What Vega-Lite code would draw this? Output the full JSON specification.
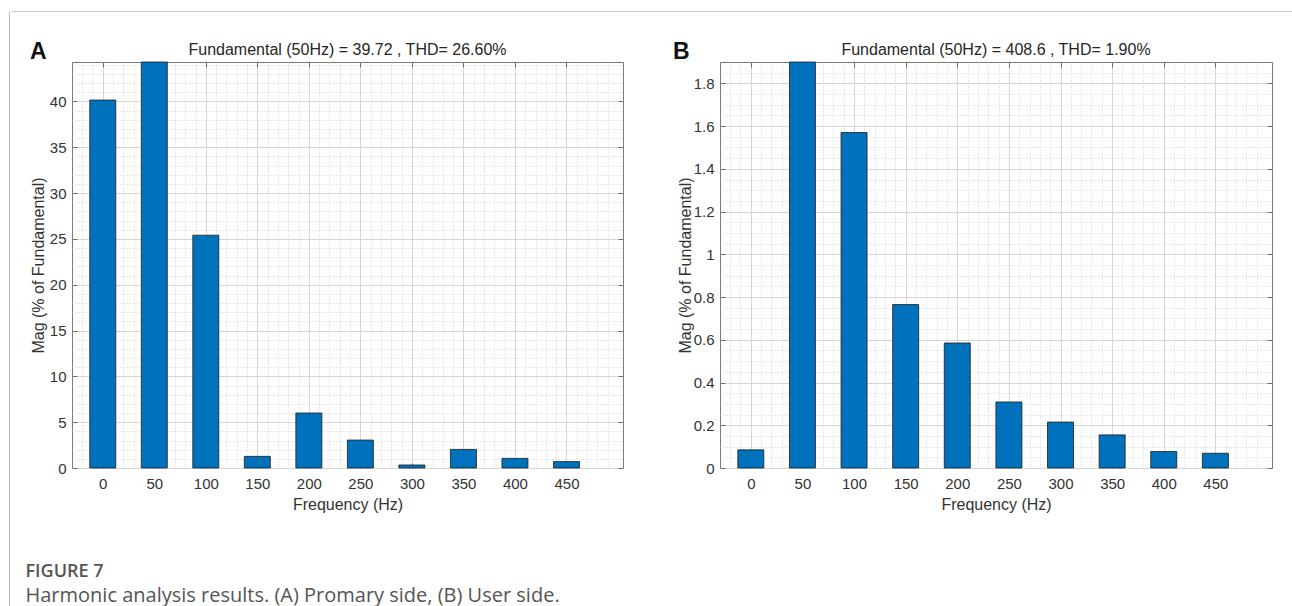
{
  "$schema": "https://vega.github.io/schema/vega-lite/v6.json",
  "background": "white",
  "padding": {"left": 8, "top": 10, "right": 0, "bottom": 0},
  "config": {
    "font": "Liberation Sans",
    "view": {"stroke": "#7a7a7a", "strokeWidth": 1},
    "axis": {
      "domain": false,
      "labelFont": "Liberation Sans",
      "labelFontSize": 15,
      "labelColor": "#333333",
      "titleFont": "Liberation Sans",
      "titleFontSize": 16,
      "titleFontWeight": "normal",
      "titleColor": "#333333",
      "tickColor": "#6e6e6e",
      "tickSize": -5,
      "labelOverlap": false,
      "labelFlush": false
    }
  },
  "datasets": {
    "A": [
      {"f": 0, "mag": 40.15},
      {"f": 50, "mag": 100},
      {"f": 100, "mag": 25.4},
      {"f": 150, "mag": 1.27},
      {"f": 200, "mag": 6.0},
      {"f": 250, "mag": 3.05},
      {"f": 300, "mag": 0.33},
      {"f": 350, "mag": 2.03},
      {"f": 400, "mag": 1.05},
      {"f": 450, "mag": 0.7}
    ],
    "B": [
      {"f": 0, "mag": 0.085},
      {"f": 50, "mag": 100},
      {"f": 100, "mag": 1.57},
      {"f": 150, "mag": 0.765},
      {"f": 200, "mag": 0.585},
      {"f": 250, "mag": 0.309},
      {"f": 300, "mag": 0.215},
      {"f": 350, "mag": 0.155},
      {"f": 400, "mag": 0.077},
      {"f": 450, "mag": 0.069}
    ],
    "empty": []
  },
  "spacing": 0,
  "hconcat": [
    {
      "width": 0.01,
      "height": 596,
      "data": {"name": "empty"},
      "mark": {"type": "rule"},
      "encoding": {},
      "view": {"stroke": "#bdbdbd", "strokeWidth": 1}
    },
    {
      "spacing": 28,
      "vconcat": [
        {
          "width": 1284,
          "height": 0.01,
          "data": {"name": "empty"},
          "mark": {"type": "rule"},
          "encoding": {},
          "view": {"stroke": "#c8c8c8", "strokeWidth": 1}
        },
        {
          "spacing": 0,
          "hconcat": [
            {
              "width": 14,
              "height": 0.01,
              "data": {"name": "empty"},
              "mark": {"type": "rule"},
              "encoding": {},
              "view": {"stroke": null}
            },
            {
              "spacing": 48,
              "title": {
                "text": "FIGURE 7",
                "subtitle": "Harmonic analysis results. (A) Promary side, (B) User side.",
                "orient": "bottom",
                "anchor": "start",
                "frame": "bounds",
                "dx": -4,
                "font": "Open Sans",
                "fontSize": 18,
                "fontWeight": 600,
                "color": "#555555",
                "subtitleFont": "Open Sans",
                "subtitleFontSize": 20,
                "subtitleFontWeight": 400,
                "subtitleColor": "#555555",
                "subtitlePadding": 5,
                "offset": 50
              },
              "hconcat": [
                {
                  "width": 551,
                  "height": 406,
                  "layer": [
                    {
                      "data": {"name": "A"},
                      "mark": {"type": "bar", "width": 26, "color": "#0072BD", "stroke": "#1c1c1c", "strokeWidth": 0.8},
                      "encoding": {
                        "x": {
                          "field": "f", "type": "quantitative",
                          "scale": {"domain": [-25, 500], "nice": false, "zero": false},
                          "axis": {
                            "orient": "bottom",
                            "title": "Frequency (Hz)",
                            "values": [-20,-10,0,10,20,30,40,50,60,70,80,90,100,110,120,130,140,150,160,170,180,190,200,210,220,230,240,250,260,270,280,290,300,310,320,330,340,350,360,370,380,390,400,410,420,430,440,450,460,470,480,490],
                            "labelExpr": "datum.value % 50 === 0 && datum.value >= 0 ? '' + datum.value : ''",
                            "labelPadding": 13,
                            "titlePadding": 5,
                            "tickOpacity": {"condition": {"test": "datum.value % 50 === 0 && datum.value >= 0", "value": 1}, "value": 0},
                            "grid": true,
                            "gridColor": {"condition": {"test": "datum.value % 50 === 0", "value": "#d6d6d6"}, "value": "#c8c8c8"},
                            "gridDash": {"condition": {"test": "datum.value % 50 === 0", "value": []}, "value": [1, 2]},
                            "gridWidth": {"condition": {"test": "datum.value % 50 === 0", "value": 1}, "value": 0.8}
                          }
                        },
                        "y": {
                          "field": "mag", "type": "quantitative",
                          "scale": {"domain": [0, 44.3], "nice": false, "clamp": true},
                          "axis": {
                            "orient": "left",
                            "title": "Mag (% of Fundamental)",
                            "values": [0,1,2,3,4,5,6,7,8,9,10,11,12,13,14,15,16,17,18,19,20,21,22,23,24,25,26,27,28,29,30,31,32,33,34,35,36,37,38,39,40,41,42,43,44],
                            "labelExpr": "datum.value % 5 === 0 ? '' + datum.value : ''",
                            "labelPadding": 11,
                            "titlePadding": 3,
                            "tickOpacity": {"condition": {"test": "datum.value % 5 === 0", "value": 1}, "value": 0},
                            "grid": true,
                            "gridColor": {"condition": {"test": "datum.value % 5 === 0", "value": "#d6d6d6"}, "value": "#c8c8c8"},
                            "gridDash": {"condition": {"test": "datum.value % 5 === 0", "value": []}, "value": [1, 2]},
                            "gridWidth": {"condition": {"test": "datum.value % 5 === 0", "value": 1}, "value": 0.8}
                          }
                        }
                      }
                    },
                    {
                      "data": {"values": [{"t": "Fundamental (50Hz) = 39.72 , THD= 26.60%"}]},
                      "mark": {"type": "text", "align": "center", "baseline": "alphabetic", "dy": -7, "fontSize": 16, "color": "#262626", "font": "Liberation Sans"},
                      "encoding": {
                        "text": {"field": "t"},
                        "x": {"datum": 237.5, "type": "quantitative",
                              "axis": {"orient": "top", "values": [0,50,100,150,200,250,300,350,400,450], "labels": false, "grid": false, "title": null}},
                        "y": {"datum": 44.3, "type": "quantitative",
                              "axis": {"orient": "right", "values": [0,5,10,15,20,25,30,35,40], "labels": false, "grid": false, "title": null}}
                      }
                    },
                    {
                      "data": {"values": [{"t": "A"}]},
                      "mark": {"type": "text", "align": "left", "baseline": "alphabetic", "dx": -47, "dy": -3, "fontSize": 23, "fontWeight": "bold", "color": "#111111", "font": "Liberation Sans"},
                      "encoding": {
                        "text": {"field": "t"},
                        "x": {"datum": -25, "type": "quantitative", "axis": null},
                        "y": {"datum": 44.3, "type": "quantitative", "axis": null}
                      }
                    }
                  ],
                  "resolve": {"axis": {"x": "independent", "y": "independent"}}
                },
                {
                  "width": 552,
                  "height": 406,
                  "layer": [
                    {
                      "data": {"name": "B"},
                      "mark": {"type": "bar", "width": 26, "color": "#0072BD", "stroke": "#1c1c1c", "strokeWidth": 0.8},
                      "encoding": {
                        "x": {
                          "field": "f", "type": "quantitative",
                          "scale": {"domain": [-25, 500], "nice": false, "zero": false},
                          "axis": {
                            "orient": "bottom",
                            "title": "Frequency (Hz)",
                            "values": [-20,-10,0,10,20,30,40,50,60,70,80,90,100,110,120,130,140,150,160,170,180,190,200,210,220,230,240,250,260,270,280,290,300,310,320,330,340,350,360,370,380,390,400,410,420,430,440,450,460,470,480,490],
                            "labelExpr": "datum.value % 50 === 0 && datum.value >= 0 ? '' + datum.value : ''",
                            "labelPadding": 13,
                            "titlePadding": 5,
                            "tickOpacity": {"condition": {"test": "datum.value % 50 === 0 && datum.value >= 0", "value": 1}, "value": 0},
                            "grid": true,
                            "gridColor": {"condition": {"test": "datum.value % 50 === 0", "value": "#d6d6d6"}, "value": "#c8c8c8"},
                            "gridDash": {"condition": {"test": "datum.value % 50 === 0", "value": []}, "value": [1, 2]},
                            "gridWidth": {"condition": {"test": "datum.value % 50 === 0", "value": 1}, "value": 0.8}
                          }
                        },
                        "y": {
                          "field": "mag", "type": "quantitative",
                          "scale": {"domain": [0, 1.9], "nice": false, "clamp": true},
                          "axis": {
                            "orient": "left",
                            "title": "Mag (% of Fundamental)",
                            "values": [0,0.05,0.1,0.15,0.2,0.25,0.3,0.35,0.4,0.45,0.5,0.55,0.6,0.65,0.7,0.75,0.8,0.85,0.9,0.95,1,1.05,1.1,1.15,1.2,1.25,1.3,1.35,1.4,1.45,1.5,1.55,1.6,1.65,1.7,1.75,1.8,1.85],
                            "labelExpr": "abs(datum.value * 5 - round(datum.value * 5)) < 0.001 ? '' + (round(datum.value * 10) / 10) : ''",
                            "labelPadding": 11,
                            "titlePadding": 0,
                            "tickOpacity": {"condition": {"test": "abs(datum.value * 5 - round(datum.value * 5)) < 0.001", "value": 1}, "value": 0},
                            "grid": true,
                            "gridColor": {"condition": {"test": "abs(datum.value * 5 - round(datum.value * 5)) < 0.001", "value": "#d6d6d6"}, "value": "#c8c8c8"},
                            "gridDash": {"condition": {"test": "abs(datum.value * 5 - round(datum.value * 5)) < 0.001", "value": []}, "value": [1, 2]},
                            "gridWidth": {"condition": {"test": "abs(datum.value * 5 - round(datum.value * 5)) < 0.001", "value": 1}, "value": 0.8}
                          }
                        }
                      }
                    },
                    {
                      "data": {"values": [{"t": "Fundamental (50Hz) = 408.6 , THD= 1.90%"}]},
                      "mark": {"type": "text", "align": "center", "baseline": "alphabetic", "dy": -7, "fontSize": 16, "color": "#262626", "font": "Liberation Sans"},
                      "encoding": {
                        "text": {"field": "t"},
                        "x": {"datum": 237.5, "type": "quantitative",
                              "axis": {"orient": "top", "values": [0,50,100,150,200,250,300,350,400,450], "labels": false, "grid": false, "title": null}},
                        "y": {"datum": 1.9, "type": "quantitative",
                              "axis": {"orient": "right", "values": [0,0.2,0.4,0.6,0.8,1,1.2,1.4,1.6,1.8], "labels": false, "grid": false, "title": null}}
                      }
                    },
                    {
                      "data": {"values": [{"t": "B"}]},
                      "mark": {"type": "text", "align": "left", "baseline": "alphabetic", "dx": -52, "dy": -3, "fontSize": 23, "fontWeight": "bold", "color": "#111111", "font": "Liberation Sans"},
                      "encoding": {
                        "text": {"field": "t"},
                        "x": {"datum": -25, "type": "quantitative", "axis": null},
                        "y": {"datum": 1.9, "type": "quantitative", "axis": null}
                      }
                    }
                  ],
                  "resolve": {"axis": {"x": "independent", "y": "independent"}}
                }
              ]
            }
          ]
        }
      ]
    }
  ]
}
